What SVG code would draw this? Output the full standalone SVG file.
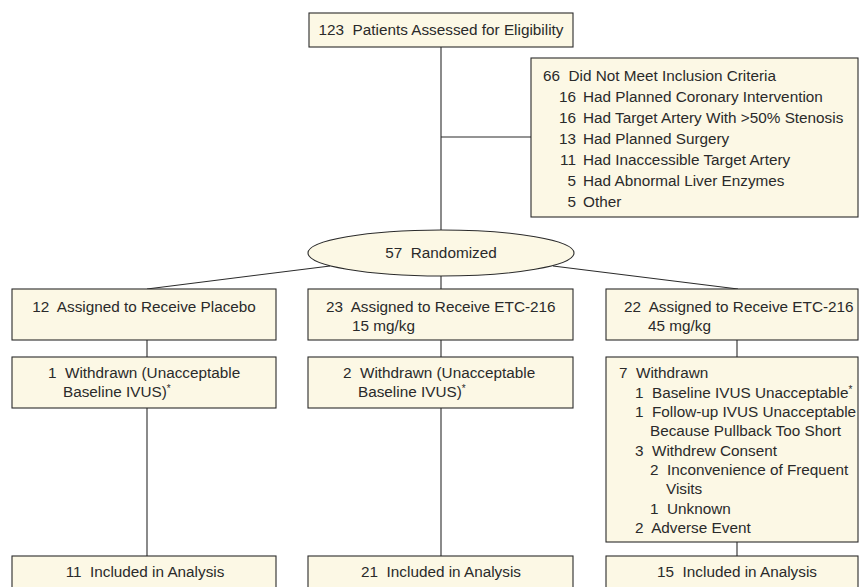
<svg xmlns="http://www.w3.org/2000/svg" width="859" height="587" viewBox="0 0 859 587">
<style>
.box{fill:#fcf8e5;stroke:#2b2b2b;stroke-width:1.1}
.ln{stroke:#2b2b2b;stroke-width:1.1;fill:none}
text{font-family:"Liberation Sans",Arial,sans-serif;font-size:15.3px;fill:#2a2a2a;white-space:pre}
.c{text-anchor:middle}
.e{text-anchor:end}
.sup{font-size:10px}
</style>
<rect width="859" height="587" fill="#ffffff"/>
<g id="connectors">
<line class="ln" x1="441" y1="47" x2="441" y2="231"/>
<line class="ln" x1="441" y1="137" x2="531" y2="137"/>
<line class="ln" x1="330" y1="266" x2="147" y2="289"/>
<line class="ln" x1="441" y1="276" x2="441" y2="289"/>
<line class="ln" x1="553" y1="266" x2="738" y2="289"/>
<line class="ln" x1="147" y1="340" x2="147" y2="357"/>
<line class="ln" x1="441" y1="340" x2="441" y2="357"/>
<line class="ln" x1="737" y1="340" x2="737" y2="357"/>
<line class="ln" x1="147" y1="408" x2="147" y2="556"/>
<line class="ln" x1="441" y1="408" x2="441" y2="556"/>
<line class="ln" x1="737" y1="542" x2="737" y2="556"/>
</g>
<g id="assessed">
<rect class="box" x="309" y="13" width="264" height="34"/>
<text class="c" x="441" y="35">123  Patients Assessed for Eligibility</text>
</g>
<g id="excluded">
<rect class="box" x="531" y="58" width="327" height="159"/>
<text x="543" y="81">66  Did Not Meet Inclusion Criteria</text>
<text class="e" x="576" y="102">16</text><text x="583" y="102">Had Planned Coronary Intervention</text>
<text class="e" x="576" y="123">16</text><text x="583" y="123">Had Target Artery With &gt;50% Stenosis</text>
<text class="e" x="576" y="144">13</text><text x="583" y="144">Had Planned Surgery</text>
<text class="e" x="576" y="165">11</text><text x="583" y="165">Had Inaccessible Target Artery</text>
<text class="e" x="576" y="186">5</text><text x="583" y="186">Had Abnormal Liver Enzymes</text>
<text class="e" x="576" y="207">5</text><text x="583" y="207">Other</text>
</g>
<g id="randomized">
<ellipse class="box" cx="441" cy="253" rx="133" ry="23"/>
<text class="c" x="441" y="258">57  Randomized</text>
</g>
<g id="placebo">
<rect class="box" x="12" y="289" width="264" height="51"/>
<text class="c" x="144" y="312">12  Assigned to Receive Placebo</text>
</g>
<g id="etc15">
<rect class="box" x="308" y="289" width="265" height="51"/>
<text x="326" y="312">23  Assigned to Receive ETC-216</text>
<text x="352" y="331">15 mg/kg</text>
</g>
<g id="etc45">
<rect class="box" x="606" y="289" width="252" height="51"/>
<text x="624" y="312">22  Assigned to Receive ETC-216</text>
<text x="648" y="331">45 mg/kg</text>
</g>
<g id="withdrawn-placebo">
<rect class="box" x="12" y="357" width="264" height="51"/>
<text x="48" y="378">1  Withdrawn (Unacceptable</text>
<text x="63" y="397">Baseline IVUS)<tspan class="sup" dy="-5">*</tspan></text>
</g>
<g id="withdrawn-etc15">
<rect class="box" x="308" y="357" width="265" height="51"/>
<text x="343" y="378">2  Withdrawn (Unacceptable</text>
<text x="358" y="397">Baseline IVUS)<tspan class="sup" dy="-5">*</tspan></text>
</g>
<g id="withdrawn-etc45">
<rect class="box" x="606" y="357" width="252" height="185"/>
<text x="619" y="378">7  Withdrawn</text>
<text x="635" y="398">1  Baseline IVUS Unacceptable<tspan class="sup" dy="-5">*</tspan></text>
<text x="635" y="417">1  Follow-up IVUS Unacceptable</text>
<text x="650" y="436">Because Pullback Too Short</text>
<text x="635" y="456">3  Withdrew Consent</text>
<text x="650" y="475">2  Inconvenience of Frequent</text>
<text x="666" y="494">Visits</text>
<text x="650" y="514">1  Unknown</text>
<text x="635" y="533">2  Adverse Event</text>
</g>
<g id="analysis-placebo">
<rect class="box" x="12" y="556" width="264" height="40"/>
<text class="c" x="145" y="577">11  Included in Analysis</text>
</g>
<g id="analysis-etc15">
<rect class="box" x="308" y="556" width="265" height="40"/>
<text class="c" x="441" y="577">21  Included in Analysis</text>
</g>
<g id="analysis-etc45">
<rect class="box" x="606" y="556" width="252" height="40"/>
<text class="c" x="737" y="577">15  Included in Analysis</text>
</g>
</svg>
